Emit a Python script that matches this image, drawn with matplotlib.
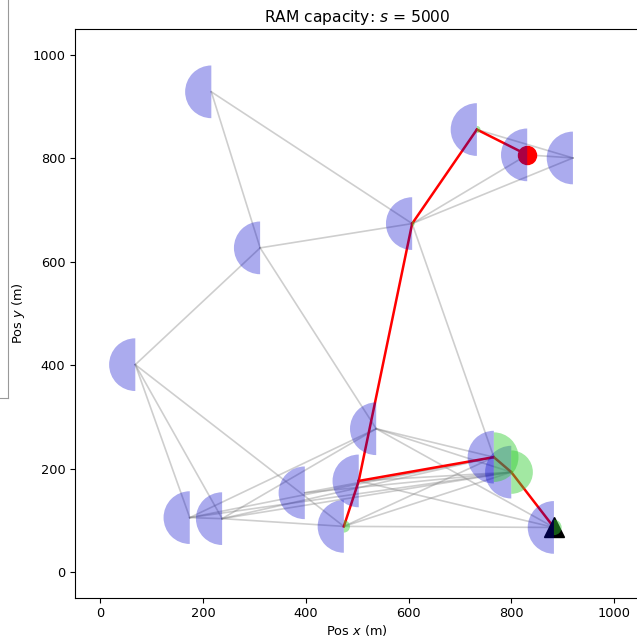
import matplotlib

matplotlib.use("Agg")
import matplotlib.pyplot as plt
from matplotlib.patches import Wedge

# node positions (m)
node_x = [216, 311, 68, 607, 733, 831, 920, 537, 503, 474, 398, 174, 237, 766, 800, 883]
node_y = [929, 627, 401, 674, 856, 807, 801, 277, 176, 88, 153, 105, 103, 222, 193, 86]

# links between nodes (indices)
links = [
    (0, 1), (0, 3), (1, 2), (1, 3), (1, 7), (2, 9), (2, 11), (2, 12),
    (3, 5), (3, 6), (3, 13), (4, 6), (5, 6), (7, 11), (7, 12), (7, 13),
    (7, 14), (7, 15), (8, 14), (8, 15), (9, 12), (9, 13), (9, 14), (9, 15),
    (10, 13), (10, 14), (11, 12), (11, 13), (11, 14), (12, 13), (12, 14),
]
route = [(5, 4), (4, 3), (3, 8), (8, 9), (8, 13), (13, 14), (14, 15)]

# cached data per node (right half), radius in m
cache_nodes = [13, 14, 15, 9, 4, 3]
cache_radius = [48, 42, 15, 12, 7, 5]

source = 5
sink = 15
RAM_RADIUS = 51
s_value = 5000

fig = plt.figure(figsize=(6.37, 6.38), dpi=100)

# edge of the neighbouring subplot, cut off by the crop
side = fig.add_axes([-0.5, 1 - 398 / 638, 0.5 + 7.5 / 637, 1.0])
side.set_xticks([])
side.set_yticks([])
for sp in side.spines.values():
    sp.set_color("0.6")

ax = fig.add_axes([74.7 / 637, 1 - 597.7 / 638, 565 / 637, 568.4 / 638])

for a, b in links:
    ax.plot([node_x[a], node_x[b]], [node_y[a], node_y[b]],
            color="gray", alpha=0.38, lw=1.2, zorder=1)
for a, b in route:
    ax.plot([node_x[a], node_x[b]], [node_y[a], node_y[b]],
            color="red", lw=1.8, zorder=2)

ax.plot(node_x[source], node_y[source], "o", color="red", ms=13, zorder=3)
ax.plot(node_x[sink], node_y[sink], "^", color="black", ms=14, zorder=3)

for x, y in zip(node_x, node_y):
    ax.add_patch(Wedge((x, y), RAM_RADIUS, 90, 270,
                       facecolor=(0, 0, 0.8), alpha=0.33, lw=0, zorder=4))
for i, r in zip(cache_nodes, cache_radius):
    ax.add_patch(Wedge((node_x[i], node_y[i]), r, -90, 90,
                       facecolor="limegreen", alpha=0.45, lw=0, zorder=4))

ax.set_xlim(-50, 1050)
ax.set_ylim(-50, 1050)
ax.set_xticks(range(0, 1001, 200))
ax.set_yticks(range(0, 1001, 200))
ax.tick_params(labelsize=9.3, length=3.3)
ax.set_xlabel("Pos $x$ (m)", fontsize=9.3, labelpad=2)
ax.set_ylabel("Pos $y$ (m)", fontsize=9.3)
ax.set_title(f"RAM capacity: $s$ = {s_value}", fontsize=11.2, pad=5)

fig.savefig("out.png", dpi=100)
